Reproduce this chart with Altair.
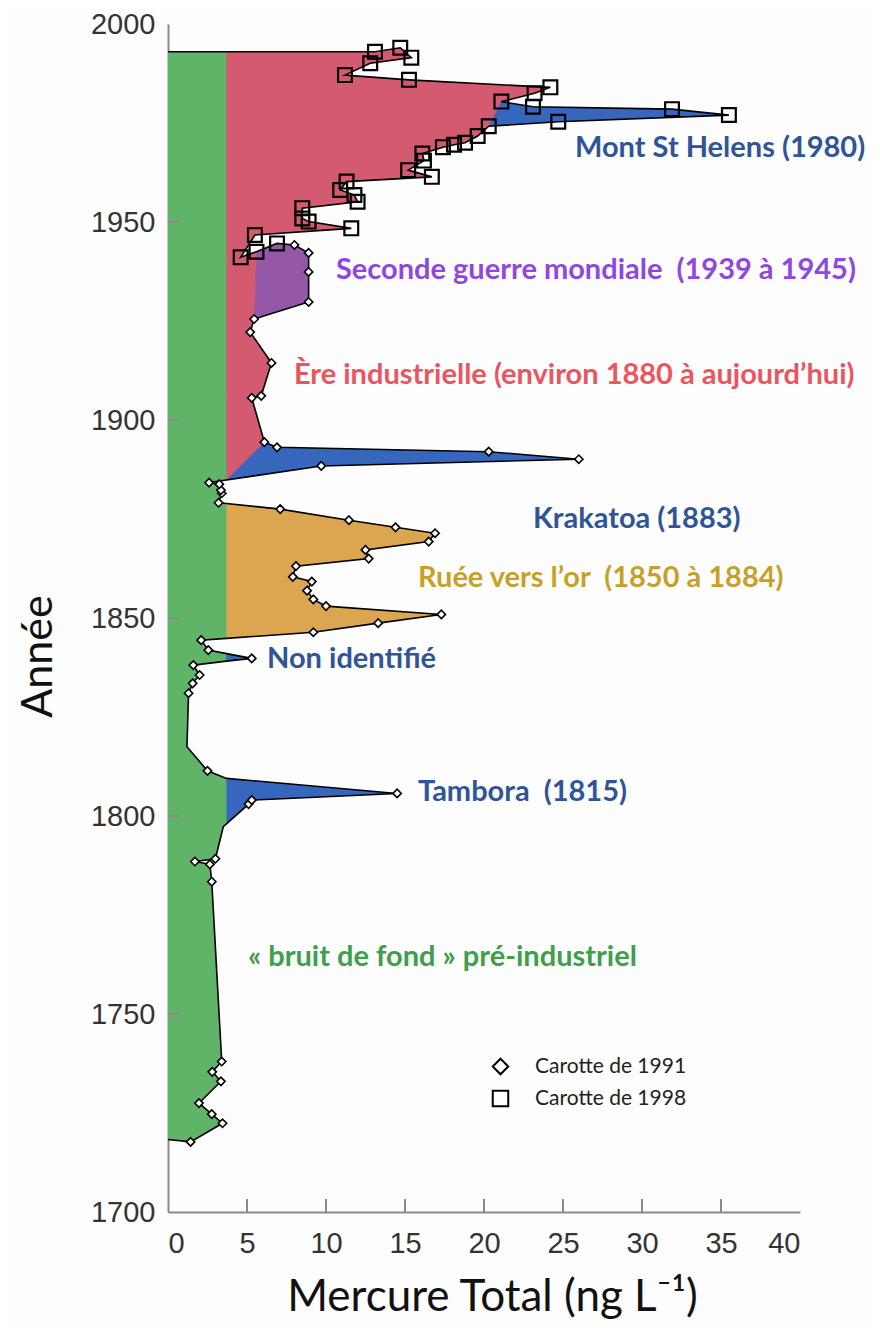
import altair as alt
import pandas as pd

# ---------------- data ----------------
# ordered profile (mercury ng/L, year, core) from bottom to top
hg = [0, 1.43, 3.45, 2.77, 1.96, 3.35, 2.8, 3.4, 2.77, 2.65,          # 0-9
      1.7, 3.0, 3.5, 3.7, 5.1, 5.3, 14.5, 3.7, 2.5, 1.2,               # 10-19
      1.3, 1.56, 2.0, 1.6, 3.7, 5.3, 3.7, 2.55, 2.1, 3.7,              # 20-29
      9.2, 13.3, 17.3, 10.0, 9.2, 8.8, 9.1, 7.9, 8.1, 12.7,            # 30-39
      12.5, 16.5, 16.9, 14.4, 11.45, 7.1, 3.7, 3.2, 3.4, 3.35,         # 40-49
      3.25, 2.6, 3.7, 9.7, 26.0, 20.3, 6.9, 6.1, 5.3, 5.9,             # 50-59
      6.55, 5.2, 5.45, 8.9, 8.9, 8.9, 8.0, 6.9, 5.6, 4.6,              # 60-69
      5.5, 11.6, 8.9, 8.5, 8.5, 12.0, 11.8, 10.9, 11.3, 16.7,          # 70-79
      15.2, 16.2, 16.1, 17.4, 18.1, 18.8, 19.6, 20.3, 24.7, 35.5,      # 80-89
      31.9, 23.1, 21.1, 23.2, 24.2, 15.25, 11.2, 12.8, 15.4, 14.7,     # 90-99
      13.1, 3.7, 0]                                                     # 100-102
annee = [1718.3, 1717.7, 1722.4, 1724.7, 1727.5, 1733.0, 1735.4, 1738.0, 1783.4, 1787.8,
         1788.5, 1789.2, 1797.3, 1798.0, 1803.0, 1804.0, 1805.7, 1809.5, 1811.4, 1817.5,
         1831.0, 1833.5, 1835.6, 1838.1, 1839.1, 1839.8, 1841.0, 1841.9, 1844.4, 1844.85,
         1846.4, 1848.7, 1850.9, 1853.0, 1854.7, 1856.9, 1859.2, 1860.4, 1863.1, 1865.0,
         1867.2, 1869.3, 1871.4, 1872.9, 1874.7, 1877.5, 1878.9, 1879.1, 1881.5, 1882.3,
         1883.8, 1884.2, 1884.85, 1888.4, 1890.1, 1892.0, 1893.1, 1894.4, 1905.6, 1906.1,
         1914.4, 1922.2, 1925.5, 1929.8, 1937.4, 1942.2, 1944.2, 1944.6, 1942.5, 1941.1,
         1946.7, 1948.4, 1950.1, 1950.9, 1953.5, 1955.1, 1956.8, 1958.1, 1960.2, 1961.4,
         1963.1, 1965.5, 1967.3, 1968.9, 1969.5, 1970.0, 1971.7, 1974.2, 1975.3, 1977.0,
         1978.5, 1979.1, 1980.4, 1982.5, 1984.0, 1985.9, 1987.1, 1990.1, 1991.5, 1994.0,
         1993.0, 1993.0, 1993.0]
# D = carotte 1991 (diamond), S = carotte 1998 (square), "" = no marker
carotte = ["", "D", "D", "D", "D", "D", "D", "D", "D", "D",
           "D", "D", "", "", "D", "D", "D", "", "D", "",
           "D", "D", "D", "D", "", "D", "", "D", "D", "",
           "D", "D", "D", "D", "D", "D", "D", "D", "D", "D",
           "D", "D", "D", "D", "D", "D", "", "D", "D", "D",
           "D", "D", "", "D", "D", "D", "D", "D", "D", "D",
           "D", "D", "D", "D", "D", "D", "D", "S", "S", "S",
           "S", "S", "S", "S", "S", "S", "S", "S", "S", "S",
           "S", "S", "S", "S", "S", "S", "S", "S", "S", "S",
           "S", "S", "S", "S", "S", "S", "S", "S", "S", "S",
           "S", "", ""]
core_names = {"D": "Carotte de 1991", "S": "Carotte de 1998"}

# shaded regions: slices of the profile (first, last index), closed polygons
region_names = ["fond", "industrie", "or", "tambora", "nonid", "krakatoa", "helens", "guerre"]
region_first = [0, 52, 29, 13, 24, 52, 87, 62]
region_last = [102, 101, 46, 17, 26, 57, 92, 68]
region_colors = ["#60b468", "#d45b6f", "#dba64f", "#3667bd", "#3667bd", "#3667bd", "#3667bd", "#9558a9"]

# annotations
ann_text = ["Mont St Helens (1980)", "Seconde guerre mondiale \u00a0(1939 à 1945)",
            "Ère industrielle (environ 1880 à aujourd’hui)", "Krakatoa (1883)",
            "Ruée vers l’or \u00a0(1850 à 1884)", "Non identifié", "Tambora \u00a0(1815)",
            "« bruit de fond » pré-industriel"]
ann_hg = [25.76, 10.63, 7.97, 23.1, 15.82, 6.27, 15.82, 5.06]
ann_annee = [1968.7, 1937.9, 1911.4, 1875.0, 1860.1, 1839.6, 1806.1, 1764.4]
ann_colors = ["#2f5597", "#9146e0", "#eb5560", "#2f5597", "#c8a028", "#2f5597", "#2f5597", "#3f9f4a"]

x_ticks = [0, 5, 10, 15, 20, 25, 30, 35, 40]
y_ticks = [1700, 1750, 1800, 1850, 1900, 1950, 2000]
x_inner_ticks = [5, 10, 15, 20, 25, 30, 35]
y_inner_ticks = [1750, 1800, 1850, 1900, 1950]

# ---------------- chart ----------------
xs = alt.Scale(domain=[0, 40], nice=False, zero=False)
ys = alt.Scale(domain=[1700, 2000], nice=False, zero=False)
tick_font = "Liberation Sans, Arial"
x_axis = alt.Axis(values=x_ticks, format="d", grid=False, ticks=False, tickSize=0, labelPadding=17,
                  labelFont=tick_font, labelFontSize=29, labelColor="#333333",
                  domainColor="#8a8a8a", domainWidth=2,
                  title="Mercure Total (ng L⁻¹)", titleFont="Lato", titleFontWeight="normal",
                  titleFontSize=44, titleColor="#111111", titleX=324, titleY=98,
                  titleAlign="center", titleBaseline="alphabetic")
y_axis = alt.Axis(values=y_ticks, format="d", grid=False, ticks=False, tickSize=0, labelPadding=13,
                  labelFont=tick_font, labelFontSize=29, labelColor="#333333",
                  domainColor="#8a8a8a", domainWidth=2,
                  title="Année", titleFont="Lato", titleFontWeight="normal",
                  titleFontSize=43, titleColor="#111111", titleX=-130, titleY=632,
                  titleAngle=270, titleAlign="center", titleBaseline="middle")


def X(field="hg"):
    return alt.X(f"{field}:Q", scale=xs, axis=x_axis)


def Y(field="annee"):
    return alt.Y(f"{field}:Q", scale=ys, axis=y_axis)


profile = pd.DataFrame({"hg": hg, "annee": annee, "k": list(range(len(hg))), "c": carotte})

layers = []
for name, a, b, col in zip(region_names, region_first, region_last, region_colors):
    poly = profile.iloc[a:b + 1]
    layers.append(
        alt.Chart(poly).mark_line(filled=True, fill=col, stroke="transparent", strokeWidth=0)
        .encode(x=X(), y=Y(), order=alt.Order("k:Q"))
    )

layers.append(
    alt.Chart(profile).mark_line(color="black", strokeWidth=1.6)
    .encode(x=X(), y=Y(), order=alt.Order("k:Q"))
)

pts = profile[profile["c"] != ""].copy()
pts["carotte"] = pts["c"].map(core_names)
core_domain = ["Carotte de 1991", "Carotte de 1998"]
shape_scale = alt.Scale(domain=core_domain, range=["diamond", "square"])
stroke_scale = alt.Scale(domain=core_domain, range=["black", "black"])
legend = alt.Legend(title=None, orient="none", legendX=322, legendY=1032,
                    labelFont="Lato", labelFontSize=21, labelColor="#222222",
                    symbolSize=240, symbolStrokeColor="black", symbolFillColor="white",
                    symbolStrokeWidth=2, labelOffset=24, rowPadding=7)

layers.append(
    alt.Chart(pts[pts["c"] == "D"]).mark_point(filled=True, fill="white",
                                               strokeWidth=1.6, size=70, opacity=1)
    .encode(x=X(), y=Y(),
            shape=alt.Shape("carotte:N", scale=shape_scale, legend=legend),
            stroke=alt.Stroke("carotte:N", scale=stroke_scale, legend=legend))
)
layers.append(
    alt.Chart(pts[pts["c"] == "S"]).mark_point(filled=False,
                                               strokeWidth=2.2, size=190, opacity=1)
    .encode(x=X(), y=Y(),
            shape=alt.Shape("carotte:N", scale=shape_scale, legend=legend),
            stroke=alt.Stroke("carotte:N", scale=stroke_scale, legend=legend))
)

# inward ticks
layers.append(
    alt.Chart(pd.DataFrame({"annee": y_inner_ticks})).mark_rule(color="#8a8a8a", strokeWidth=2)
    .encode(y=Y(), x=alt.value(0), x2=alt.value(12))
)
layers.append(
    alt.Chart(pd.DataFrame({"hg": x_inner_ticks})).mark_rule(color="#8a8a8a", strokeWidth=2)
    .encode(x=X(), y=alt.value(1188), y2=alt.value(1175))
)

ann = pd.DataFrame({"t": ann_text, "hg": ann_hg, "annee": ann_annee})
layers.append(
    alt.Chart(ann).mark_text(align="left", baseline="middle", font="Lato", fontWeight="bold", fontSize=29)
    .encode(x=X(), y=Y(), text="t:N",
            color=alt.Color("t:N", scale=alt.Scale(domain=ann_text, range=ann_colors), legend=None))
)

chart = alt.layer(*layers).properties(
    width=632, height=1188,
    autosize=alt.AutoSizeParams(type="none"),
    padding={"left": 160, "top": 16, "right": 72, "bottom": 114},
    background="#fdfdfd",
).configure_view(stroke=None)

chart.save("out.html", embed_options={"renderer": "svg", "actions": False})
